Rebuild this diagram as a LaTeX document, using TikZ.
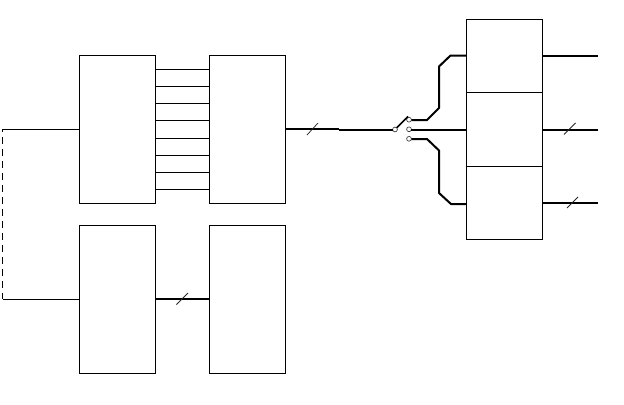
\documentclass[tikz,border=0pt]{standalone}
\usetikzlibrary{calc,positioning}

\begin{document}
\begin{tikzpicture}[
  x=.75pt,y=-.75pt,
  line cap=butt,line join=miter,
  block/.style={draw=black,line width=.75pt,minimum width=57pt,minimum height=111pt,inner sep=0pt,outer sep=0pt},
  slice/.style={draw=black,line width=.75pt,minimum width=57pt,minimum height=54.75pt,inner sep=0pt,outer sep=0pt},
  contact/.style={circle,draw=black!75,fill=white,line width=.5pt,minimum size=3.6pt,inner sep=0pt,outer sep=0pt},
  thin wire/.style={draw=black,line width=.75pt},
  bus/.style={draw=black,line width=1.5pt},
  tick/.style={draw=black!85,line width=.55pt}
]
\useasboundingbox (0,0) rectangle (624,404);

% left column of blocks
\node[block] (modA) at (117.25,129) {};
\node[block] (modC) at (117.25,299) {};

% right column of blocks
\node[block] (modB) at (247.5,129) {};
\node[block] (modD) at (247.5,299) {};

% stacked output blocks
\node[slice] (outA) at (504.5,56) {};
\node[slice,minimum height=55.5pt] (outB) at (504.5,129.5) {};
\node[slice] (outC) at (504.5,203) {};

% parallel links
\foreach \y in {69.5,86.5,103.5,120.5,138,155,172,189.5}
  \draw[thin wire] (modA.east |- 0,\y) -- (modB.west |- 0,\y);

% feed on the left
\coordinate (feedA) at (2.5,129);
\coordinate (feedC) at (2.5,299);
\draw[thin wire] (modA.west) -- (feedA);
\draw[thin wire] (modC.west) -- (feedC);
\draw[thin wire,dash pattern=on 5.2pt off 3.8pt,dash phase=3pt] (feedA) -- (feedC);

% lower link
\draw[bus] (modC.east |- 0,298.7) -- (modD.west |- 0,298.7);
\draw[tick] (176.5,304.5) -- (188,293);

% switch
\node[contact] (pivot) at (395,129.5) {};
\node[contact] (upper) at (409,119.7) {};
\node[contact] (middle) at (409,129.3) {};
\node[contact] (lower) at (409,138.8) {};
\coordinate (armtip) at (408,116.5);
\coordinate (joint) at (339,129.2);

\draw[bus] (modB.east |- 0,128.7) -- (joint |- 0,128.7);
\draw[bus] (joint |- 0,129.5) -- (pivot.west |- 0,129.5);
\draw[tick] (307,135) -- (318,123);
\draw[draw=black,line width=1.3pt] (pivot.north east) -- (armtip);

% switch to stacked blocks
\draw[bus] (upper.east |- 0,120) -- (427,120) -- (439,108) -- (439,66.5) -- (450.5,55.5) -- (outA.west |- 0,55.5);
\draw[bus] (middle.east |- 0,129.7) -- (outB.west |- 0,129.7);
\draw[bus] (lower.east |- 0,139) -- (427,139) -- (439,150.5) -- (439,193) -- (451,204) -- (outC.west |- 0,204);

% outputs
\coordinate (endA) at (598,55.7);
\coordinate (endB) at (598,129.7);
\coordinate (endC) at (598,203);
\draw[bus] (outA.east |- endA) -- (endA);
\draw[bus] (outB.east |- endB) -- (endB);
\draw[bus] (outC.east |- endC) -- (endC);
\draw[tick] (564,134.5) -- (575.5,123);
\draw[tick] (567,208) -- (578,197);

\end{tikzpicture}
\end{document}
